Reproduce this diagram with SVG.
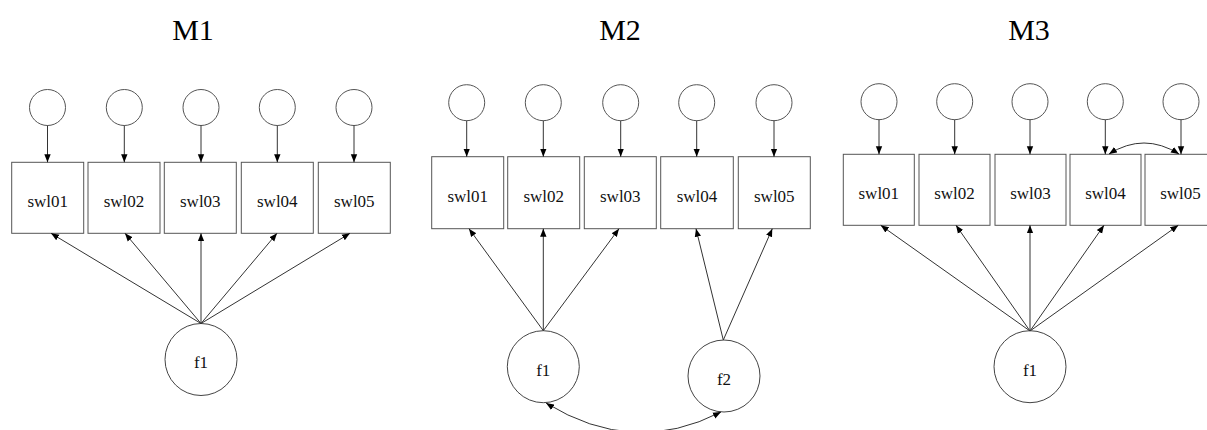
<svg xmlns="http://www.w3.org/2000/svg" width="1207" height="430" viewBox="0 0 1207 430">
<style>
.bg{fill:#fff}
.box{fill:#fff;stroke:#555;stroke-width:1}
.err{fill:#fff;stroke:#555;stroke-width:1}
.lat{fill:#fff;stroke:#444;stroke-width:1}
.edge{fill:none;stroke:#333;stroke-width:1;marker-end:url(#ah)}
.cov{fill:none;stroke:#333;stroke-width:1;marker-end:url(#ah);marker-start:url(#ah)}
.lbl{font-family:"Liberation Serif","Times New Roman",serif;font-size:17px;fill:#111;text-anchor:middle}
.title{font-family:"Liberation Serif","Times New Roman",serif;font-size:30px;fill:#000;text-anchor:middle}
</style>
<defs>
<marker id="ah" viewBox="0 0 10 10" refX="10" refY="5" markerWidth="8" markerHeight="8" markerUnits="userSpaceOnUse" orient="auto-start-reverse">
<path d="M0,1 L10,5 L0,9 z" fill="#000"/>
</marker>
</defs>
<rect class="bg" x="0" y="0" width="1207" height="430"/>

<text class="title" x="193" y="40">M1</text>
<text class="title" x="620" y="40">M2</text>
<text class="title" x="1029" y="40">M3</text>

<!-- M1 -->
<g id="m1">
<g id="m1-e1"><circle class="err" cx="47.5" cy="107.5" r="18"/></g>
<g id="m1-e2"><circle class="err" cx="124.3" cy="107.5" r="18"/></g>
<g id="m1-e3"><circle class="err" cx="201" cy="107.5" r="18"/></g>
<g id="m1-e4"><circle class="err" cx="277.3" cy="107.5" r="18"/></g>
<g id="m1-e5"><circle class="err" cx="354" cy="107.5" r="18"/></g>
<g id="m1-swl01"><rect class="box" x="11.7" y="162.3" width="72" height="71"/><text class="lbl" x="47.7" y="206.5">swl01</text></g>
<g id="m1-swl02"><rect class="box" x="88" y="162.3" width="72" height="71"/><text class="lbl" x="124" y="206.5">swl02</text></g>
<g id="m1-swl03"><rect class="box" x="164.3" y="162.3" width="72" height="71"/><text class="lbl" x="200.3" y="206.5">swl03</text></g>
<g id="m1-swl04"><rect class="box" x="241.3" y="162.3" width="72" height="71"/><text class="lbl" x="277.3" y="206.5">swl04</text></g>
<g id="m1-swl05"><rect class="box" x="318.3" y="162.3" width="72" height="71"/><text class="lbl" x="354.3" y="206.5">swl05</text></g>
<g id="m1-f1"><circle class="lat" cx="201" cy="359.5" r="36"/><text class="lbl" x="201" y="368">f1</text></g>
</g>

<!-- M2 -->
<g id="m2">
<g id="m2-e1"><circle class="err" cx="466.7" cy="102.7" r="18"/></g>
<g id="m2-e2"><circle class="err" cx="543.3" cy="102.7" r="18"/></g>
<g id="m2-e3"><circle class="err" cx="620.7" cy="102.7" r="18"/></g>
<g id="m2-e4"><circle class="err" cx="696.7" cy="102.7" r="18"/></g>
<g id="m2-e5"><circle class="err" cx="774" cy="102.7" r="18"/></g>
<g id="m2-swl01"><rect class="box" x="431.7" y="156.7" width="72" height="72"/><text class="lbl" x="467.7" y="202">swl01</text></g>
<g id="m2-swl02"><rect class="box" x="507.7" y="156.7" width="72" height="72"/><text class="lbl" x="543.7" y="202">swl02</text></g>
<g id="m2-swl03"><rect class="box" x="584.3" y="156.7" width="72" height="72"/><text class="lbl" x="620.3" y="202">swl03</text></g>
<g id="m2-swl04"><rect class="box" x="660.7" y="156.7" width="72.6" height="72"/><text class="lbl" x="697" y="202">swl04</text></g>
<g id="m2-swl05"><rect class="box" x="738.3" y="156.7" width="72" height="72"/><text class="lbl" x="774.3" y="202">swl05</text></g>
<g id="m2-f1"><circle class="lat" cx="543.3" cy="366.7" r="36"/><text class="lbl" x="543.3" y="375.5">f1</text></g>
<g id="m2-f2"><circle class="lat" cx="724" cy="376" r="36"/><text class="lbl" x="724" y="385">f2</text></g>
</g>

<!-- M3 -->
<g id="m3">
<g id="m3-e1"><circle class="err" cx="879" cy="101.7" r="18"/></g>
<g id="m3-e2"><circle class="err" cx="954.7" cy="101.7" r="18"/></g>
<g id="m3-e3"><circle class="err" cx="1030" cy="101.7" r="18"/></g>
<g id="m3-e4"><circle class="err" cx="1105.3" cy="101.7" r="18"/></g>
<g id="m3-e5"><circle class="err" cx="1181" cy="101.7" r="18"/></g>
<g id="m3-swl01"><rect class="box" x="843.3" y="154.3" width="71" height="71"/><text class="lbl" x="878.8" y="199">swl01</text></g>
<g id="m3-swl02"><rect class="box" x="919" y="154.3" width="71" height="71"/><text class="lbl" x="954.5" y="199">swl02</text></g>
<g id="m3-swl03"><rect class="box" x="995" y="154.3" width="71" height="71"/><text class="lbl" x="1030.5" y="199">swl03</text></g>
<g id="m3-swl04"><rect class="box" x="1070" y="154.3" width="71" height="71"/><text class="lbl" x="1105.5" y="199">swl04</text></g>
<g id="m3-swl05"><rect class="box" x="1145" y="154.3" width="71" height="71"/><text class="lbl" x="1180.5" y="199">swl05</text></g>
<g id="m3-f1"><circle class="lat" cx="1030" cy="366.7" r="36"/><text class="lbl" x="1030" y="376">f1</text></g>
</g>

<g id="connectors">
<!-- M1 errors -->
<line class="edge" x1="47.5" y1="125.5" x2="47.5" y2="162.3"/>
<line class="edge" x1="124.3" y1="125.5" x2="124.3" y2="162.3"/>
<line class="edge" x1="201" y1="125.5" x2="201" y2="162.3"/>
<line class="edge" x1="277.3" y1="125.5" x2="277.3" y2="162.3"/>
<line class="edge" x1="354" y1="125.5" x2="354" y2="162.3"/>
<!-- M1 loadings -->
<line class="edge" x1="201" y1="323.5" x2="51" y2="233.3"/>
<line class="edge" x1="201" y1="323.5" x2="125" y2="233.3"/>
<line class="edge" x1="201" y1="323.5" x2="201" y2="233.3"/>
<line class="edge" x1="201" y1="323.5" x2="277" y2="233.3"/>
<line class="edge" x1="201" y1="323.5" x2="350" y2="233.3"/>
<!-- M2 errors -->
<line class="edge" x1="466.7" y1="120.7" x2="466.7" y2="156.7"/>
<line class="edge" x1="543.3" y1="120.7" x2="543.3" y2="156.7"/>
<line class="edge" x1="620.7" y1="120.7" x2="620.7" y2="156.7"/>
<line class="edge" x1="696.7" y1="120.7" x2="696.7" y2="156.7"/>
<line class="edge" x1="774" y1="120.7" x2="774" y2="156.7"/>
<!-- M2 loadings -->
<line class="edge" x1="543.3" y1="330.7" x2="469" y2="228.7"/>
<line class="edge" x1="543.3" y1="330.7" x2="543.3" y2="228.7"/>
<line class="edge" x1="543.3" y1="330.7" x2="619" y2="228.7"/>
<line class="edge" x1="723.3" y1="340" x2="696" y2="228.7"/>
<line class="edge" x1="723.3" y1="340" x2="772.3" y2="228.7"/>
<!-- M2 covariance -->
<path class="cov" d="M546,403 Q633.5,457 721,412"/>
<!-- M3 errors -->
<line class="edge" x1="879" y1="119.7" x2="879" y2="154.3"/>
<line class="edge" x1="954.7" y1="119.7" x2="954.7" y2="154.3"/>
<line class="edge" x1="1030" y1="119.7" x2="1030" y2="154.3"/>
<line class="edge" x1="1105.3" y1="119.7" x2="1105.3" y2="154.3"/>
<line class="edge" x1="1181" y1="119.7" x2="1181" y2="154.3"/>
<!-- M3 loadings -->
<line class="edge" x1="1030" y1="331" x2="880.7" y2="225.3"/>
<line class="edge" x1="1030" y1="331" x2="956" y2="225.3"/>
<line class="edge" x1="1030" y1="331" x2="1030" y2="225.3"/>
<line class="edge" x1="1030" y1="331" x2="1104" y2="225.3"/>
<line class="edge" x1="1030" y1="331" x2="1178.3" y2="225.3"/>
<!-- M3 residual covariance -->
<path class="cov" d="M1109,154 Q1144,132 1179,154"/>
</g>
</svg>
